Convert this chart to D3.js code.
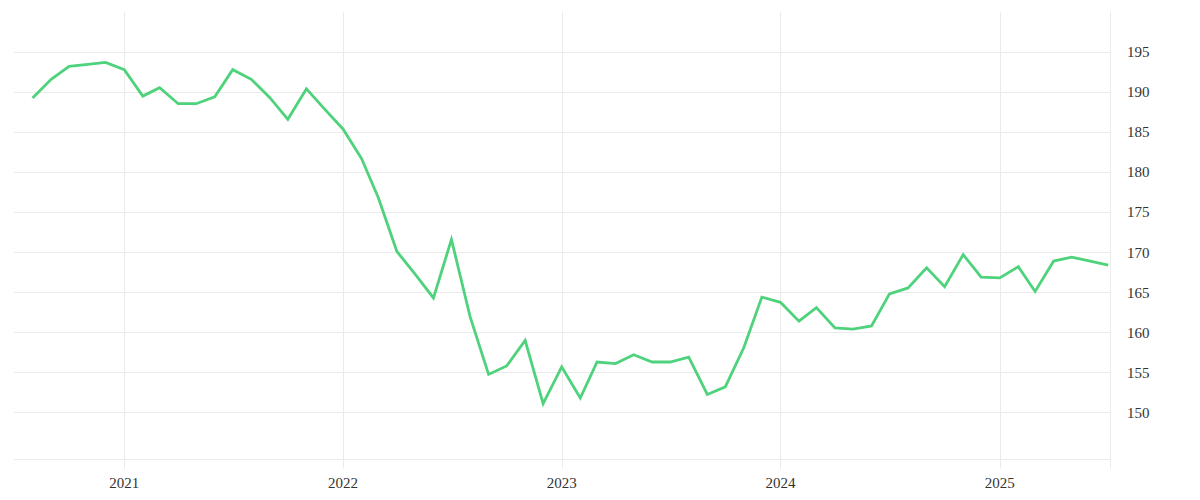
<!DOCTYPE html>
<html>
<head>
<meta charset="utf-8">
<script src="https://cdn.jsdelivr.net/npm/d3@7"></script>
<style>
    body { margin: 0; background: #fff; }
    svg text { font-family: "Liberation Serif", serif; font-size: 15px; fill: #333; }
</style>
</head>
<body>
<script>
'use strict';

// monthly values, Aug 2020 .. Jul 2025
const startMonth = '2020-08';
const values = [
    189.25, 191.6, 193.2, 193.45, 193.7,
    192.8, 189.5, 190.55, 188.55, 188.55, 189.4, 192.8, 191.6, 189.3, 186.6, 190.4, 187.9,
    185.4, 181.7, 176.8, 170.1, 167.3, 164.3, 171.6, 162.0, 154.75, 155.8, 159.0, 151.1,
    155.7, 151.8, 156.3, 156.1, 157.2, 156.3, 156.3, 156.9, 152.25, 153.2, 158.1, 164.4,
    163.75, 161.4, 163.1, 160.55, 160.4, 160.8, 164.8, 165.55, 168.05, 165.7, 169.7, 166.9,
    166.8, 168.2, 165.1, 168.9, 169.4, 168.9, 168.4
];
const yTicks = [150, 155, 160, 165, 170, 175, 180, 185, 190, 195];
const xTicks = ['2021', '2022', '2023', '2024', '2025'];

const width = 1200, height = 500;
const plot = {left: 14, right: 1110, top: 12, bottom: 458.5};

const parse = d3.utcParse('%Y-%m');
const parseDay = d3.utcParse('%Y-%m-%d');
const t0 = parse(startMonth);
const data = values.map((v, i) => ({date: d3.utcMonth.offset(t0, i), value: v}));

const x = d3.scaleUtc()
    .domain([parseDay('2020-07-01'), parseDay('2025-07-04')])
    .range([plot.left, plot.right]);

const y = d3.scaleLinear()
    .domain([144.25, 200])
    .range([plot.bottom, plot.top]);

const svg = d3.select('body')
    .append('svg')
    .attr('width', width)
    .attr('height', height);

// horizontal grid
svg.append('g')
    .selectAll('line')
    .data(yTicks)
    .join('line')
        .attr('x1', plot.left)
        .attr('x2', plot.right)
        .attr('y1', d => Math.round(y(d)) + 0.5)
        .attr('y2', d => Math.round(y(d)) + 0.5)
        .style('stroke', '#ebebeb');

// bottom line
svg.append('line')
    .attr('x1', plot.left).attr('x2', plot.right)
    .attr('y1', Math.round(plot.bottom) + 0.5).attr('y2', Math.round(plot.bottom) + 0.5)
    .style('stroke', '#ebebeb');

// vertical grid, years + right edge
const yearDates = xTicks.map(d => d3.utcParse('%Y')(d));
svg.append('g')
    .selectAll('line')
    .data(yearDates)
    .join('line')
        .attr('x1', d => Math.round(x(d)) + 0.5)
        .attr('x2', d => Math.round(x(d)) + 0.5)
        .attr('y1', plot.top)
        .attr('y2', plot.bottom + 10)
        .style('stroke', '#ebebeb');

svg.append('line')
    .attr('x1', Math.round(plot.right) + 0.5).attr('x2', Math.round(plot.right) + 0.5)
    .attr('y1', plot.top).attr('y2', plot.bottom + 10)
    .style('stroke', '#ebebeb');

// x labels
svg.append('g')
    .selectAll('text')
    .data(yearDates)
    .join('text')
        .attr('x', d => x(d))
        .attr('y', 488)
        .attr('text-anchor', 'middle')
        .text(d => d3.utcFormat('%Y')(d));

// y labels
svg.append('g')
    .selectAll('text')
    .data(yTicks)
    .join('text')
        .attr('x', plot.right + 17)
        .attr('y', d => y(d))
        .attr('dy', '0.35em')
        .text(d => d);

// the line
const line = d3.line()
    .x(d => x(d.date))
    .y(d => y(d.value));

svg.append('path')
    .datum(data)
    .attr('d', line)
    .style('fill', 'none')
    .style('stroke', '#4fd27c')
    .style('stroke-width', 2.8)
    .style('stroke-linejoin', 'miter');
</script>
</body>
</html>
